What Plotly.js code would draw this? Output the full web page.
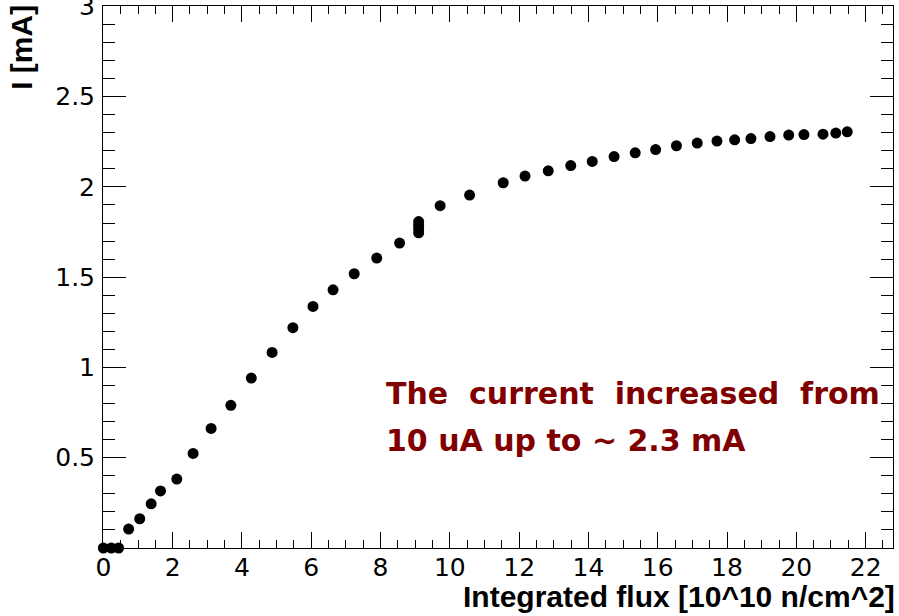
<!DOCTYPE html>
<html>
<head>
<meta charset="utf-8">
<script src="https://cdn.plot.ly/plotly-3.0.1.min.js"></script>
<style>html,body{margin:0;padding:0;background:#fff;}#chart{width:899px;height:616px;}</style>
</head>
<body>
<div id="chart"></div>
<script>
// Integrated neutron flux [10^10 n/cm^2]
const flux = [0, 0.23, 0.44, 0.73, 1.05, 1.38, 1.65, 2.12, 2.59, 3.11, 3.68, 4.27, 4.87, 5.47, 6.05, 6.63, 7.24, 7.89, 8.55, 9.10, 9.10, 9.10, 9.10, 9.72, 10.57, 11.54, 12.17, 12.84, 13.49, 14.11, 14.74, 15.35, 15.94, 16.54, 17.14, 17.71, 18.22, 18.69, 19.24, 19.78, 20.22, 20.77, 21.14, 21.47];
// Current [mA]
const current = [0.0, 0.0, 0.0, 0.105, 0.162, 0.245, 0.316, 0.382, 0.524, 0.662, 0.790, 0.941, 1.083, 1.220, 1.338, 1.430, 1.519, 1.606, 1.689, 1.746, 1.767, 1.788, 1.808, 1.896, 1.955, 2.023, 2.060, 2.089, 2.118, 2.141, 2.168, 2.189, 2.207, 2.228, 2.243, 2.254, 2.261, 2.268, 2.279, 2.287, 2.290, 2.292, 2.298, 2.305];

const xTickVals = [0, 2, 4, 6, 8, 10, 12, 14, 16, 18, 20, 22];
const xTickText = ["0", "2", "4", "6", "8", "10", "12", "14", "16", "18", "20", "22"];
const yTickVals = [0.5, 1, 1.5, 2, 2.5, 3];
const yTickText = ["0.5", "1", "1.5", "2", "2.5", "3"];

const xTitle = "Integrated flux [10^10 n/cm^2]";
const yTitle = "I [mA]";
const noteLine1 = "The\u00a0 current\u00a0 increased\u00a0 from";
const noteLine2 = "10 uA up to ~ 2.3 mA";

const tickFont = {family: "DejaVu Sans", size: 25, color: "#000"};
const titleFont = {family: "Liberation Sans", size: 30, color: "#000", weight: "bold"};
const noteFont = {family: "DejaVu Sans", size: 30, color: "#800000", weight: "bold"};

const trace = {
  x: flux, y: current, type: "scatter", mode: "markers",
  marker: {color: "#000", size: 11, line: {width: 0}},
  cliponaxis: false, hoverinfo: "x+y"
};

const layout = {
  width: 899, height: 616,
  margin: {l: 103, r: 6, t: 6, b: 68, pad: 0},
  paper_bgcolor: "#fff", plot_bgcolor: "#fff",
  showlegend: false,
  xaxis: {
    range: [-0.01, 22.79], showgrid: false, zeroline: false,
    showline: true, linecolor: "#000", linewidth: 1, mirror: "ticks",
    tickmode: "array", tickvals: xTickVals, ticktext: xTickText,
    ticks: "inside", ticklen: 16, tickwidth: 1, tickcolor: "#000",
    tickfont: tickFont, ticklabelstandoff: -3, ticklabeloverflow: "allow",
    minor: {tickmode: "linear", tick0: 0, dtick: 0.5, ticks: "inside", ticklen: 8, tickwidth: 1, tickcolor: "#000", showgrid: false}
  },
  yaxis: {
    range: [0, 3.002], showgrid: false, zeroline: false,
    showline: true, linecolor: "#000", linewidth: 1, mirror: "ticks",
    tickmode: "array", tickvals: yTickVals, ticktext: yTickText,
    ticks: "inside", ticklen: 23, tickwidth: 1, tickcolor: "#000",
    tickfont: tickFont, ticklabelstandoff: 2, ticklabeloverflow: "allow",
    minor: {tickmode: "linear", tick0: 0, dtick: 0.1, ticks: "inside", ticklen: 12, tickwidth: 1, tickcolor: "#000", showgrid: false}
  },
  annotations: [
    {text: xTitle, xref: "paper", yref: "paper", x: 1.0038, y: -0.0891, xanchor: "right", yanchor: "middle", showarrow: false, font: titleFont, borderpad: 0},
    {text: yTitle, xref: "paper", yref: "paper", x: -0.1034, y: 1.0037, xanchor: "center", yanchor: "top", textangle: -90, showarrow: false, font: titleFont, borderpad: 0},
    {text: noteLine1, xref: "paper", yref: "paper", x: 0.357, y: 0.2849, xanchor: "left", yanchor: "middle", showarrow: false, font: noteFont, borderpad: 0},
    {text: noteLine2, xref: "paper", yref: "paper", x: 0.357, y: 0.1987, xanchor: "left", yanchor: "middle", showarrow: false, font: noteFont, borderpad: 0}
  ]
};

Plotly.newPlot("chart", [trace], layout, {displayModeBar: false, staticPlot: true});
</script>
</body>
</html>
